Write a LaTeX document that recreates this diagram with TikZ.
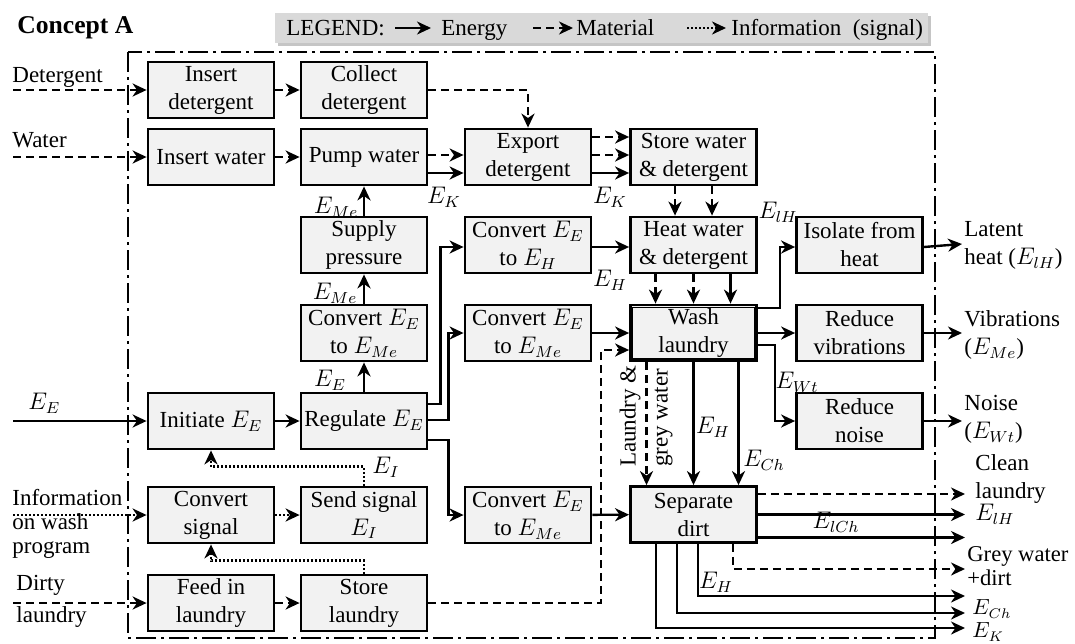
\documentclass[tikz,border=0pt]{standalone}
\usepackage{fontspec}
\setmainfont{Liberation Serif}
\usetikzlibrary{arrows.meta,shadows,calc}
\newcommand{\myfs}{\fontsize{11.5}{14}\selectfont}
\begin{document}
\begin{tikzpicture}[x=0.5pt,y=-0.5pt,
  box/.style={draw, line width=1.4pt, fill=black!5, minimum width=63pt, minimum height=28pt, inner sep=1pt, align=center, font=\myfs},
  lbl/.style={inner sep=0pt, font=\myfs},
  en/.style={line width=1.2pt, -{Stealth[length=7pt,width=6.5pt,inset=2.2pt]}},
  mat/.style={en, dash pattern=on 4pt off 2.5pt},
  inf/.style={en, dash pattern=on 1pt off 1pt},
  bord/.style={line width=1.2pt, dash pattern=on 10pt off 2.5pt on 1.5pt off 2.5pt},
  legbox/.style={fill=black!15, minimum width=326.5pt, minimum height=15pt, inner sep=0pt,
     drop shadow={shadow xshift=1.5pt, shadow yshift=-1.5pt, fill=black!45}}
]
\useasboundingbox (0,0) rectangle (1075,643);

% title and legend
\node[lbl, anchor=base west, font=\fontsize{12.8}{15}\selectfont\bfseries] (title) at (17,33) {Concept A};
\node[legbox] (legend) at (601.5,28) {};
\node[lbl, anchor=base west] (legtxt) at (286,35) {LEGEND:};
\coordinate (la1) at (395,28); \coordinate (la2) at (431,28);
\draw[en] (la1) -- (la2);
\node[lbl, anchor=base west] (legen) at (441,35) {Energy};
\coordinate (lb1) at (533,28); \coordinate (lb2) at (573,28);
\draw[mat] (lb1) -- (lb2);
\node[lbl, anchor=base west] (legmat) at (576,35) {Material};
\coordinate (lc1) at (687,28); \coordinate (lc2) at (726,28);
\draw[inf] (lc1) -- (lc2);
\node[lbl, anchor=base west] (leginf) at (731,35) {Information \ (signal)};

% system border
\draw[bord] (128,52) rectangle (935,638);

% boxes
\node[box] (indet) at (211,90) {Insert\\detergent};
\node[box] (coldet) at (364,90) {Collect\\detergent};
\node[box] (inwat) at (211,157) {Insert water};
\node[box] (pump) at (364,157) {Pump water};
\node[box] (export) at (528,157) {Export\\detergent};
\node[box] (store) at (693.5,157) {Store water\\\& detergent};
\node[box] (supply) at (364,245) {Supply\\pressure};
\node[box] (convH) at (528,245) {Convert $E_E$\\to $E_H$};
\node[box] (heat) at (693.5,245) {Heat water\\\& detergent};
\node[box] (iso) at (859.5,245) {Isolate from\\heat};
\node[box] (convA) at (364,333) {Convert $E_E$\\to $E_{Me}$};
\node[box] (convB) at (528,333) {Convert $E_E$\\to $E_{Me}$};
\node[box] (wash) at (693.5,333) {Wash\\laundry};
\draw[line width=0.6pt] ($(wash.north west)+(3.5,3.5)$) rectangle ($(wash.south east)+(-3.5,-3.5)$);
\node[box] (redvib) at (859.5,333) {Reduce\\vibrations};
\node[box] (init) at (211,421) {Initiate $E_E$};
\node[box] (reg) at (364,421) {Regulate $E_E$};
\node[box] (rednoise) at (859.5,421) {Reduce\\noise};
\node[box] (conv) at (211,515) {Convert\\signal};
\node[box] (send) at (364,515) {Send signal\\$E_I$};
\node[box] (convC) at (528,515) {Convert $E_E$\\to $E_{Me}$};
\node[box] (sep) at (693.5,514.5) {Separate\\dirt};
\node[box] (feed) at (211,603) {Feed in\\laundry};
\node[box] (storel) at (364,603) {Store\\laundry};

% left inputs
\coordinate (detin) at (13,90);
\coordinate (watin) at (13,157);
\coordinate (eein) at (13,421);
\coordinate (infin) at (13,515);
\coordinate (dirtin) at (13,603);
\node[lbl, anchor=west] (ldet) at (12,77) {Detergent};
\node[lbl, anchor=west] (lwat) at (12,140) {Water};
\node[lbl, anchor=west] (lee) at (28,403) {$E_E$};
\node[lbl, anchor=west, align=left, font=\fontsize{11.5}{12}\selectfont] (linf) at (12,524) {Information\\on wash\\program};
\node[lbl, anchor=west] (ldirty) at (16,585) {Dirty};
\node[lbl, anchor=west] (llaun) at (16,617) {laundry};
\draw[mat] (detin) -- (indet.west);
\draw[mat] (watin) -- (inwat.west);
\draw[en] (eein) -- (init.west);
\draw[inf] (infin) -- (conv.west);
\draw[mat] (dirtin) -- (feed.west);

% top rows
\draw[mat] (indet) -- (coldet);
\draw[mat] (inwat) -- (pump);
\draw[mat] (coldet.east) -| (export.north);
\draw[mat] ([yshift=1pt]pump.east) -- ([yshift=1pt]export.west);
\draw[en] ([yshift=-8pt]pump.east) -- ([yshift=-8pt]export.west);
\node[lbl] (ek1) at (444,197) {$E_K$};
\draw[mat] ([yshift=10pt]export.east) -- ([yshift=10pt]store.west);
\draw[mat] ([yshift=1pt]export.east) -- ([yshift=1pt]store.west);
\draw[en] ([yshift=-8pt]export.east) -- ([yshift=-8pt]store.west);
\node[lbl] (ek2) at (610,197) {$E_K$};
\draw[mat] ([xshift=-9.25pt]store.south) -- ([xshift=-9.25pt]heat.north);
\draw[mat] ([xshift=9.25pt]store.south) -- ([xshift=9.25pt]heat.north);

% energy chain column 2
\draw[en] (reg) -- (convA);
\node[lbl] (lee2) at (330,380) {$E_E$};
\draw[en] (convA) -- (supply);
\node[lbl] (leme1) at (335,293) {$E_{Me}$};
\draw[en] (supply) -- (pump);
\node[lbl] (leme2) at (336,207) {$E_{Me}$};
\draw[en] (init) -- (reg);

% regulate outputs
\draw[en] ([yshift=8.5pt]reg.east) -- ++(12,0) |- ([yshift=-1pt]convH.west);
\draw[en] ([yshift=0.5pt]reg.east) -- ++(20,0) |- (convB.west);
\draw[en] ([yshift=-9.5pt]reg.east) -- ++(20,0) |- (convC.west);

% heat / wash
\draw[en] ([yshift=-1pt]convH.east) -- ([yshift=-1pt]heat.west);
\node[lbl] (leh1) at (610,280) {$E_H$};
\draw[mat] ([xshift=-19pt]heat.south) -- ([xshift=-19pt]wash.north);
\draw[mat] (heat.south) -- (wash.north);
\draw[en] ([xshift=18.5pt]heat.south) -- ([xshift=18.5pt]wash.north);
\draw[en] (convB) -- (wash);
\draw[mat] (storel.east) -| ([xshift=-14pt,yshift=-8.5pt]wash.west) -- ([yshift=-8.5pt]wash.west);

% wash outputs
\draw[en] ([yshift=12.5pt]wash.east) -- ++(22,0) |- ([yshift=-1pt]iso.west);
\node[lbl] (lelh) at (778,212) {$E_{lH}$};
\draw[en] (wash) -- (redvib);
\draw[en] ([yshift=-6pt]wash.east) -- ++(17,0) |- (rednoise.west);
\node[lbl] (lewt) at (797,382) {$E_{Wt}$};
\draw[mat] ([xshift=-23.5pt]wash.south) -- ([xshift=-23.5pt]sep.north);
\node[lbl, rotate=90, align=left] (llgw) at (646,416) {Laundry \&\\[2pt]grey water};
\draw[en] (wash.south) -- (sep.north);
\node[lbl] (leh2) at (713,427) {$E_H$};
\draw[en] ([xshift=22.5pt]wash.south) -- ([xshift=22.5pt]sep.north);
\node[lbl] (lech) at (764,460) {$E_{Ch}$};

% right outputs
\coordinate (olat) at (962,244);
\coordinate (ovib) at (962,333);
\coordinate (onoi) at (962,421);
\draw[en] ([yshift=-1pt]iso.east) -- (olat);
\draw[en] (redvib) -- (ovib);
\draw[en] (rednoise) -- (onoi);
\node[lbl, anchor=west, align=left] (llat) at (964,245.5) {Latent\\heat ($E_{lH}$)};
\node[lbl, anchor=west, align=left] (lvib) at (964,335) {Vibrations\\($E_{Me}$)};
\node[lbl, anchor=west, align=left] (lnoi) at (964,419.5) {Noise\\($E_{Wt}$)};

% signals
\draw[inf] (send.north) -- ++(0,-19) -| (init.south);
\node[lbl] (lei) at (386,467) {$E_I$};
\draw[inf] (conv) -- (send);
\draw[inf] (storel.north) -- ++(0,-13) -| (conv.south);
\draw[mat] (feed) -- (storel);
\draw[en] (convC) -- (sep);

% separate dirt outputs
\coordinate (oclean) at (965,494);
\coordinate (oelh) at (965,514.5);
\coordinate (oelch) at (965,537.5);
\coordinate (ogrey) at (965,569);
\coordinate (oeh) at (965,596);
\coordinate (oech) at (965,613);
\coordinate (oek) at (965,628);
\draw[mat] ([yshift=10.25pt]sep.east) -- (oclean);
\draw[en] (sep.east) -- (oelh);
\draw[en] ([yshift=-11.5pt]sep.east) -- (oelch);
\node[lbl] (lelch) at (836,522) {$E_{lCh}$};
\draw[mat] ([xshift=19.75pt]sep.south) |- (ogrey);
\draw[en] ([xshift=2.25pt]sep.south) |- (oeh);
\node[lbl] (leh3) at (716,582) {$E_H$};
\draw[en] ([xshift=-8.25pt]sep.south) |- (oech);
\draw[en] ([xshift=-18.75pt]sep.south) |- (oek);
\node[lbl, anchor=west, align=left] (lclean) at (975,479) {Clean\\laundry};
\node[lbl, anchor=west] (lelh2) at (975,514) {$E_{lH}$};
\node[lbl, anchor=west, align=left, font=\fontsize{11.3}{12}\selectfont] (lgrey) at (967,566) {Grey water\\+dirt};
\node[lbl, anchor=west, font=\fontsize{10.5}{12}\selectfont] (lech2) at (972,609) {$E_{Ch}$};
\node[lbl, anchor=west, font=\fontsize{10.5}{12}\selectfont] (lek2) at (972,632) {$E_K$};
\end{tikzpicture}
\end{document}
